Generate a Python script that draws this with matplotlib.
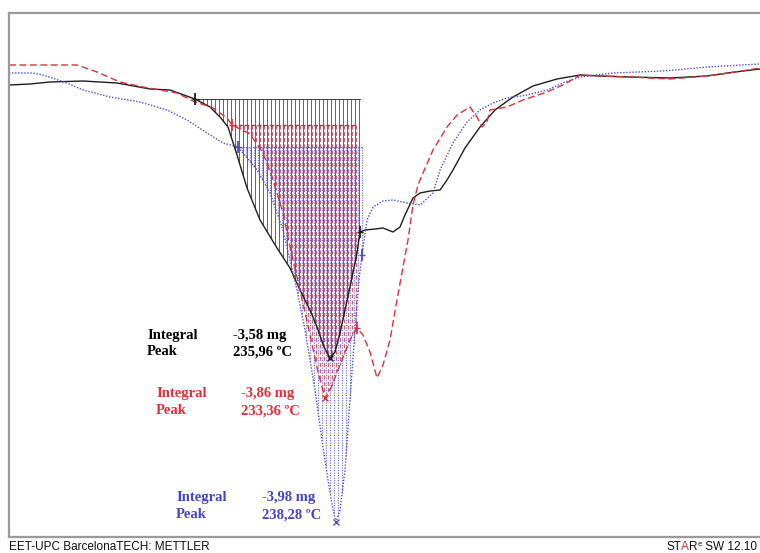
import numpy as np
import matplotlib.pyplot as plt

# DSC curves: temperature (ºC) and heat flow (mW)
black_t = [74.5, 85, 95, 111.5, 128.5, 145, 155, 167.5, 175, 180, 184, 188.5,
           193.5, 200, 208.5, 215, 220, 225, 228.5, 232, 235, 237.5, 240, 242.5,
           245, 248.5, 250, 252.5, 257.5, 261.5, 266.5, 270, 272.5, 276.5, 280,
           285, 290, 293.5, 296.5, 302.5, 310, 317.5, 326.5, 336.5, 348.5, 360,
           370, 385, 405, 423.5, 437.5, 450]
black_hf = [-1.70, -1.68, -1.64, -1.62, -1.66, -1.78, -1.80, -1.98, -2.14, -2.34,
            -2.54, -3.10, -3.76, -4.40, -4.96, -5.36, -5.80, -6.20, -6.54, -6.94,
            -7.16, -7.04, -6.66, -6.20, -5.74, -5.06, -4.64, -4.60, -4.58, -4.56,
            -4.64, -4.54, -4.30, -3.96, -3.86, -3.82, -3.80, -3.60, -3.40, -2.96,
            -2.54, -2.20, -1.94, -1.72, -1.58, -1.50, -1.52, -1.54, -1.56, -1.52,
            -1.44, -1.38]

red_t = [74.5, 108.5, 118.5, 130, 141.5, 158.5, 166.5, 176.5, 183.5, 186, 195,
         201.5, 206.5, 211.5, 215, 220, 225, 229, 232.5, 235.5, 239, 243, 246,
         248.5, 251.5, 255, 258.5, 261.5, 265, 268.5, 271.5, 274, 276.5, 279,
         281.5, 286.5, 293.5, 298.5, 305, 308.5, 311, 313.5, 315, 323.5, 331.5,
         343.5, 352.5, 360, 370, 385, 405, 423.5, 437.5, 450]
red_hf = [-1.30, -1.30, -1.44, -1.64, -1.74, -1.86, -2.02, -2.16, -2.36, -2.50,
          -2.68, -3.06, -3.60, -4.26, -4.94, -5.80, -6.70, -7.44, -7.96, -7.76,
          -7.40, -7.00, -6.72, -6.56, -6.70, -7.04, -7.56, -7.30, -6.80, -6.00,
          -5.34, -4.80, -4.10, -3.70, -3.46, -3.00, -2.54, -2.30, -2.14, -2.34,
          -2.54, -2.44, -2.20, -2.14, -2.00, -1.84, -1.68, -1.50, -1.52, -1.54,
          -1.58, -1.52, -1.44, -1.36]

blue_t = [74.5, 86.5, 91.5, 103.5, 111.5, 125, 140, 153.5, 163.5, 173.5, 181.5,
          189, 198.5, 205, 211.5, 215, 218.5, 222.5, 227.5, 231, 234, 236.5, 238,
          240, 242.5, 245, 247.5, 249.5, 251, 253.5, 256.5, 261.5, 266.5, 273.5,
          280, 286.5, 290, 296.5, 303.5, 310, 316.5, 323.5, 333.5, 343.5, 352.5,
          360, 376.5, 401.5, 423.5, 450]
blue_hf = [-1.46, -1.46, -1.50, -1.66, -1.80, -1.94, -2.04, -2.20, -2.40, -2.66,
           -2.86, -2.94, -3.40, -3.86, -4.60, -5.20, -5.80, -6.60, -7.80, -8.80,
           -9.60, -10.20, -10.44, -10.20, -9.40, -8.00, -6.60, -5.60, -5.10, -4.40,
           -4.14, -4.02, -4.00, -4.06, -4.10, -3.86, -3.40, -2.86, -2.44, -2.20,
           -2.06, -1.96, -1.90, -1.80, -1.64, -1.54, -1.46, -1.42, -1.34, -1.28]

# integration limits (ºC) and baselines (mW)
black_lim = (167.5, 250)
red_lim = (186, 248.5)
blue_lim = (189, 251)
black_base = -1.98
red_base = -2.50
blue_base = -2.94

# peak results
labels_val = [("-3,58 mg", "235,96 ºC"), ("-3,86 mg", "233,36 ºC"),
              ("-3,98 mg", "238,28 ºC")]

c_black = '#1e1e1e'
c_red = '#d8333f'
c_blue = '#4c4cc8'

fig = plt.figure(figsize=(7.6, 5.53), dpi=100)
ax = fig.add_axes([9 / 760, 16 / 553, 1 - 9 / 760, 524 / 553])
ax.set_xlim(74.5, 450)
ax.set_ylim(-10.74, -0.26)
ax.set_xticks([])
ax.set_yticks([])
for side in ['left', 'top', 'bottom']:
    ax.spines[side].set_color('#9a9a9a')
    ax.spines[side].set_linewidth(1.6)
ax.spines['right'].set_visible(False)


def hatch(t, hf, lim, base, color, ls, lw, alpha):
    xs = np.arange(lim[0], lim[1] + 0.01, 2.0)
    ax.vlines(xs, base, np.interp(xs, t, hf), colors=color, linestyles=ls,
              linewidth=lw, alpha=alpha)
    ax.plot([lim[0], lim[1]], [base, base], color=color, ls=ls, lw=lw)


hatch(black_t, black_hf, black_lim, black_base, c_black, '-', 0.6, 0.8)
hatch(red_t, red_hf, red_lim, red_base, '#b8304e', (0, (3, 1.5)), 1.0, 0.75)
hatch(blue_t, blue_hf, blue_lim, blue_base, '#5a5ad0', (0, (1, 1)), 0.9, 0.8)

ax.plot(black_t, black_hf, color=c_black, lw=1.0)
ax.plot(red_t, red_hf, color=c_red, lw=1.0, ls=(0, (5, 2.5)))
ax.plot(blue_t, blue_hf, color=c_blue, lw=1.0, ls=(0, (1, 1.2)))

# limit and peak markers
for t, hf, lim, col in [(black_t, black_hf, black_lim, c_black),
                        (red_t, red_hf, red_lim, c_red),
                        (blue_t, blue_hf, blue_lim, c_blue)]:
    ys = np.interp(lim, t, hf)
    ax.plot(lim, ys, ls='none', marker='|', ms=9, mew=1.3, color=col)
    ax.plot(lim, ys, ls='none', marker='_', ms=5, mew=1.0, color=col)
    i = int(np.argmin(hf[:30]))
    ax.plot(t[i], hf[i], ls='none', marker='x', ms=4, mew=1.0, color=col)

# result labels
font = dict(family='Liberation Serif', fontweight='bold', fontsize=10.5,
            va='center')
pos = [(143.5, 186.5, -6.72, -7.04, 'black'),
       (148, 190.5, -7.88, -8.22, '#e0303a'),
       (158, 201, -9.96, -10.30, '#4545c0')]
for (x1, x2, y1, y2, col), (integ, peak) in zip(pos, labels_val):
    ax.text(x1, y1, "Integral", color=col, **font)
    ax.text(x2, y1, integ, color=col, **font)
    ax.text(x1, y2, "Peak", color=col, **font)
    ax.text(x2, y2, peak, color=col, **font)

# footer
fig.text(9 / 760, 6 / 553, "EET-UPC BarcelonaTECH: METTLER", fontsize=8.5,
         family='Liberation Sans', va='center', color='#111111')
renderer = fig.canvas.get_renderer()
parts = [("ST", '#111111', 8.5, 0), ("A", '#d8333f', 8.5, 0),
         ("R", '#111111', 8.5, 0), ("e", '#111111', 5.5, 3),
         (" SW 12.10", '#111111', 8.5, 0)]
texts = []
for s, col, size, dy in parts:
    texts.append(fig.text(0, (6 + dy) / 553, s, fontsize=size, color=col,
                          family='Liberation Sans', va='center'))
widths = [t.get_window_extent(renderer).width / fig.bbox.width for t in texts]
x = 757 / 760 - sum(widths)
for t, w in zip(texts, widths):
    t.set_x(x)
    x += w

fig.savefig('out.png', dpi=100)
